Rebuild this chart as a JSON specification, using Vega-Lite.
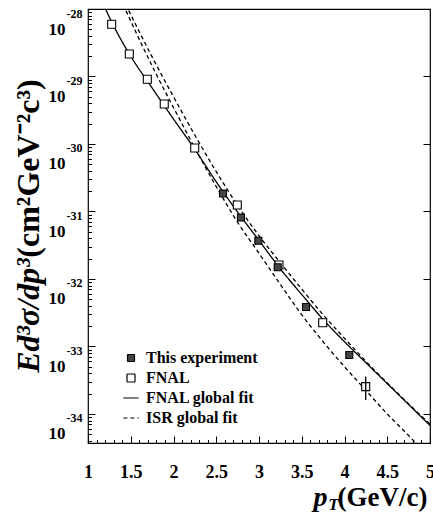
{
"$schema":"https://vega.github.io/schema/vega-lite/v6.json",
"width":342,"height":434,
"autosize":{"type":"none"},
"padding":{"left":88,"top":9,"right":3,"bottom":70},
"background":"white",
"config":{"view":{"stroke":"black","strokeWidth":1.2},"font":"Liberation Serif",
"axis":{"grid":false,"domain":false,"tickColor":"black","tickWidth":1,"labelColor":"black","labelFont":"Liberation Serif","labelFontWeight":"bold","titleColor":"black","titleFont":"Liberation Serif","titleFontWeight":"bold","labelFlush":false,"labelOverlap":false,"labelBound":false}},
"datasets":{
"pts":[
{"series":"FNAL","pt":1.277,"y":5.93e-29},
{"series":"FNAL","pt":1.483,"y":2.15e-29},
{"series":"FNAL","pt":1.694,"y":9.10e-30},
{"series":"FNAL","pt":1.892,"y":3.92e-30},
{"series":"FNAL","pt":2.248,"y":8.73e-31},
{"series":"FNAL","pt":2.746,"y":1.25e-31},
{"series":"FNAL","pt":3.234,"y":1.61e-32},
{"series":"FNAL","pt":3.745,"y":2.25e-33},
{"series":"FNAL","pt":4.248,"y":2.54e-34},
{"series":"This experiment","pt":2.579,"y":1.85e-31},
{"series":"This experiment","pt":2.789,"y":8.15e-32},
{"series":"This experiment","pt":2.992,"y":3.68e-32},
{"series":"This experiment","pt":3.219,"y":1.49e-32},
{"series":"This experiment","pt":3.55,"y":3.85e-33},
{"series":"This experiment","pt":4.056,"y":7.48e-34}
],
"err":[{"series":"FNAL","pt":4.248,"ylo":1.61e-34,"yhi":3.57e-34}],
"curves":[
{"series":"FNAL global fit","curve":"FNAL","pt":1.18,"y":1.175e-28},
{"series":"FNAL global fit","curve":"FNAL","pt":1.3,"y":5.62e-29},
{"series":"FNAL global fit","curve":"FNAL","pt":1.5,"y":1.995e-29},
{"series":"FNAL global fit","curve":"FNAL","pt":1.75,"y":6.76e-30},
{"series":"FNAL global fit","curve":"FNAL","pt":2.0,"y":2.34e-30},
{"series":"FNAL global fit","curve":"FNAL","pt":2.25,"y":8.32e-31},
{"series":"FNAL global fit","curve":"FNAL","pt":2.5,"y":2.75e-31},
{"series":"FNAL global fit","curve":"FNAL","pt":2.75,"y":9.77e-32},
{"series":"FNAL global fit","curve":"FNAL","pt":3.0,"y":3.72e-32},
{"series":"FNAL global fit","curve":"FNAL","pt":3.25,"y":1.41e-32},
{"series":"FNAL global fit","curve":"FNAL","pt":3.5,"y":5.89e-33},
{"series":"FNAL global fit","curve":"FNAL","pt":3.75,"y":2.51e-33},
{"series":"FNAL global fit","curve":"FNAL","pt":4.0,"y":1.175e-33},
{"series":"FNAL global fit","curve":"FNAL","pt":4.25,"y":5.75e-34},
{"series":"FNAL global fit","curve":"FNAL","pt":4.5,"y":2.82e-34},
{"series":"FNAL global fit","curve":"FNAL","pt":4.75,"y":1.38e-34},
{"series":"FNAL global fit","curve":"FNAL","pt":5.0,"y":6.76e-35},
{"series":"ISR global fit","curve":"ISR upper","pt":1.44,"y":1.175e-28},
{"series":"ISR global fit","curve":"ISR upper","pt":1.75,"y":1.95e-29},
{"series":"ISR global fit","curve":"ISR upper","pt":2.0,"y":5.01e-30},
{"series":"ISR global fit","curve":"ISR upper","pt":2.25,"y":1.35e-30},
{"series":"ISR global fit","curve":"ISR upper","pt":2.5,"y":3.89e-31},
{"series":"ISR global fit","curve":"ISR upper","pt":2.75,"y":1.23e-31},
{"series":"ISR global fit","curve":"ISR upper","pt":3.0,"y":4.37e-32},
{"series":"ISR global fit","curve":"ISR upper","pt":3.25,"y":1.74e-32},
{"series":"ISR global fit","curve":"ISR upper","pt":3.5,"y":7.08e-33},
{"series":"ISR global fit","curve":"ISR upper","pt":3.75,"y":2.95e-33},
{"series":"ISR global fit","curve":"ISR upper","pt":4.0,"y":1.32e-33},
{"series":"ISR global fit","curve":"ISR upper","pt":4.25,"y":6.03e-34},
{"series":"ISR global fit","curve":"ISR upper","pt":4.5,"y":2.88e-34},
{"series":"ISR global fit","curve":"ISR upper","pt":4.75,"y":1.41e-34},
{"series":"ISR global fit","curve":"ISR upper","pt":5.0,"y":7.08e-35},
{"series":"ISR global fit","curve":"ISR lower","pt":1.41,"y":1.175e-28},
{"series":"ISR global fit","curve":"ISR lower","pt":1.6,"y":3.55e-29},
{"series":"ISR global fit","curve":"ISR lower","pt":1.8,"y":1.07e-29},
{"series":"ISR global fit","curve":"ISR lower","pt":2.0,"y":3.47e-30},
{"series":"ISR global fit","curve":"ISR lower","pt":2.25,"y":8.71e-31},
{"series":"ISR global fit","curve":"ISR lower","pt":2.5,"y":2.34e-31},
{"series":"ISR global fit","curve":"ISR lower","pt":2.75,"y":6.92e-32},
{"series":"ISR global fit","curve":"ISR lower","pt":3.0,"y":2.40e-32},
{"series":"ISR global fit","curve":"ISR lower","pt":3.25,"y":8.32e-33},
{"series":"ISR global fit","curve":"ISR lower","pt":3.5,"y":2.95e-33},
{"series":"ISR global fit","curve":"ISR lower","pt":3.75,"y":1.175e-33},
{"series":"ISR global fit","curve":"ISR lower","pt":4.0,"y":5.01e-34},
{"series":"ISR global fit","curve":"ISR lower","pt":4.25,"y":2.24e-34},
{"series":"ISR global fit","curve":"ISR lower","pt":4.5,"y":1.0e-34},
{"series":"ISR global fit","curve":"ISR lower","pt":4.75,"y":4.79e-35},
{"series":"ISR global fit","curve":"ISR lower","pt":4.9,"y":3.02e-35}
]
},
"resolve":{"axis":{"x":"independent","y":"independent"}},
"layer":[
{"data":{"name":"curves"},
"mark":{"type":"line","color":"black","strokeWidth":1.3,"clip":true,"interpolate":"monotone"},
"encoding":{
"x":{"field":"pt","type":"quantitative","scale":{"domain":[1,5],"nice":false,"zero":false},
"axis":{"orient":"bottom","values":[1,1.5,2,2.5,3,3.5,4,4.5,5],"format":".1~f","tickSize":-7,"labelFontSize":18,"labelPadding":27,"title":"(GeV/c)","titleFontSize":27,"titleX":294,"titleY":62,"titleAlign":"center","titleBaseline":"alphabetic"}},
"y":{"field":"y","type":"quantitative","scale":{"type":"log","domain":[3.715e-35,1e-28],"nice":false},
"axis":{"orient":"left","values":[1e-34,1e-33,1e-32,1e-31,1e-30,1e-29,1e-28],"labelExpr":"'10'","tickSize":-7,"labelFontSize":17,"labelPadding":30,"labelOffset":20,"labelBaseline":"middle","title":"Ed³σ/dp³","titleFontStyle":"italic","titleFontSize":32,"titleAngle":-90,"titleX":-50,"titleY":306,"titleAlign":"center","titleBaseline":"alphabetic"}},
"detail":{"field":"curve"},
"strokeDash":{"field":"series","type":"nominal","scale":{"domain":["This experiment","FNAL","FNAL global fit","ISR global fit"],"range":[[1,0],[1,0],[1,0],[4,3]]},
"legend":{"orient":"none","legendX":35,"legendY":341,"title":null,"direction":"vertical","labelFont":"Liberation Serif","labelFontWeight":"bold","labelFontSize":16,"labelColor":"black","symbolStrokeColor":"black","symbolStrokeWidth":1.2,"symbolSize":64,"labelOffset":7,"rowPadding":4,"padding":0}}
}},
{"data":{"name":"pts"},
"mark":{"type":"point","filled":true,"strokeWidth":1.1,"size":64,"opacity":1},
"encoding":{
"x":{"field":"pt","type":"quantitative","scale":{"domain":[1,5],"nice":false,"zero":false},
"axis":{"orient":"bottom","values":[1.1,1.2,1.3,1.4,1.6,1.7,1.8,1.9,2.1,2.2,2.3,2.4,2.6,2.7,2.8,2.9,3.1,3.2,3.3,3.4,3.6,3.7,3.8,3.9,4.1,4.2,4.3,4.4,4.6,4.7,4.8,4.9],"tickSize":-3.5,"labels":false,"title":"p","titleFontStyle":"italic","titleFontSize":28,"titleX":232,"titleY":62,"titleAlign":"center","titleBaseline":"alphabetic"}},
"y":{"field":"y","type":"quantitative","scale":{"type":"log","domain":[3.715e-35,1e-28],"nice":false},
"axis":{"orient":"left","values":[1e-34,1e-33,1e-32,1e-31,1e-30,1e-29,1e-28],"labelExpr":"'-' + (-round(log(datum.value)/LN10))","ticks":false,"labelFontSize":12,"labelPadding":6,"labelOffset":4,"labelBaseline":"middle","title":"(cm²GeV⁻²c³)","titleFontSize":32,"titleAngle":-90,"titleX":-50,"titleY":159,"titleAlign":"center","titleBaseline":"alphabetic"}},
"shape":{"field":"series","type":"nominal","scale":{"domain":["This experiment","FNAL","FNAL global fit","ISR global fit"],"range":["M-0.875,-0.875H0.875V0.875H-0.875Z","square","M-1.9,0H1.9","M-1.9,0H1.9"]},
"legend":{"orient":"none","legendX":35,"legendY":341,"title":null,"direction":"vertical","labelFont":"Liberation Serif","labelFontWeight":"bold","labelFontSize":16,"labelColor":"black","symbolStrokeColor":"black","symbolStrokeWidth":1.2,"symbolSize":64,"labelOffset":7,"rowPadding":4,"padding":0}},
"fill":{"field":"series","type":"nominal","scale":{"domain":["This experiment","FNAL","FNAL global fit","ISR global fit"],"range":["#444444","#ffffff","#000000","#000000"]},
"legend":{"orient":"none","legendX":35,"legendY":341,"title":null,"direction":"vertical","labelFont":"Liberation Serif","labelFontWeight":"bold","labelFontSize":16,"labelColor":"black","symbolStrokeColor":"black","symbolStrokeWidth":1.2,"symbolSize":64,"labelOffset":7,"rowPadding":4,"padding":0}},
"stroke":{"field":"series","type":"nominal","scale":{"domain":["This experiment","FNAL","FNAL global fit","ISR global fit"],"range":["#000000","#000000","#000000","#000000"]},
"legend":{"orient":"none","legendX":35,"legendY":341,"title":null,"direction":"vertical","labelFont":"Liberation Serif","labelFontWeight":"bold","labelFontSize":16,"labelColor":"black","symbolStrokeColor":"black","symbolStrokeWidth":1.2,"symbolSize":64,"labelOffset":7,"rowPadding":4,"padding":0}}
}},
{"data":{"name":"err"},
"mark":{"type":"rule","color":"black","strokeWidth":1},
"encoding":{
"x":{"field":"pt","type":"quantitative","scale":{"domain":[1,5],"nice":false,"zero":false},
"axis":{"orient":"bottom","ticks":false,"labels":false,"title":"T","titleFontStyle":"italic","titleFontSize":17,"titleX":245,"titleY":66,"titleAlign":"center","titleBaseline":"alphabetic"}},
"y":{"field":"ylo","type":"quantitative","scale":{"type":"log","domain":[3.715e-35,1e-28],"nice":false},
"axis":{"orient":"left","values":[4e-35,5e-35,6e-35,7e-35,8e-35,9e-35,2e-34,3e-34,4e-34,5e-34,6e-34,7e-34,8e-34,9e-34,2e-33,3e-33,4e-33,5e-33,6e-33,7e-33,8e-33,9e-33,2e-32,3e-32,4e-32,5e-32,6e-32,7e-32,8e-32,9e-32,2e-31,3e-31,4e-31,5e-31,6e-31,7e-31,8e-31,9e-31,2e-30,3e-30,4e-30,5e-30,6e-30,7e-30,8e-30,9e-30,2e-29,3e-29,4e-29,5e-29,6e-29,7e-29,8e-29,9e-29],"tickSize":-3.5,"labels":false,"title":null}},
"y2":{"field":"yhi"}
}},
{"data":{"name":"err"},
"mark":{"type":"rule","color":"black","strokeWidth":1},
"encoding":{
"x":{"field":"pt","type":"quantitative","scale":{"domain":[1,5],"nice":false,"zero":false},"axis":null},
"y":{"field":"ylo","type":"quantitative","scale":{"type":"log","domain":[3.715e-35,1e-28],"nice":false},
"axis":{"orient":"right","values":[1e-34,1e-33,1e-32,1e-31,1e-30,1e-29,1e-28],"tickSize":-7,"labels":false,"title":null}},
"y2":{"field":"yhi"}
}}
]
}
